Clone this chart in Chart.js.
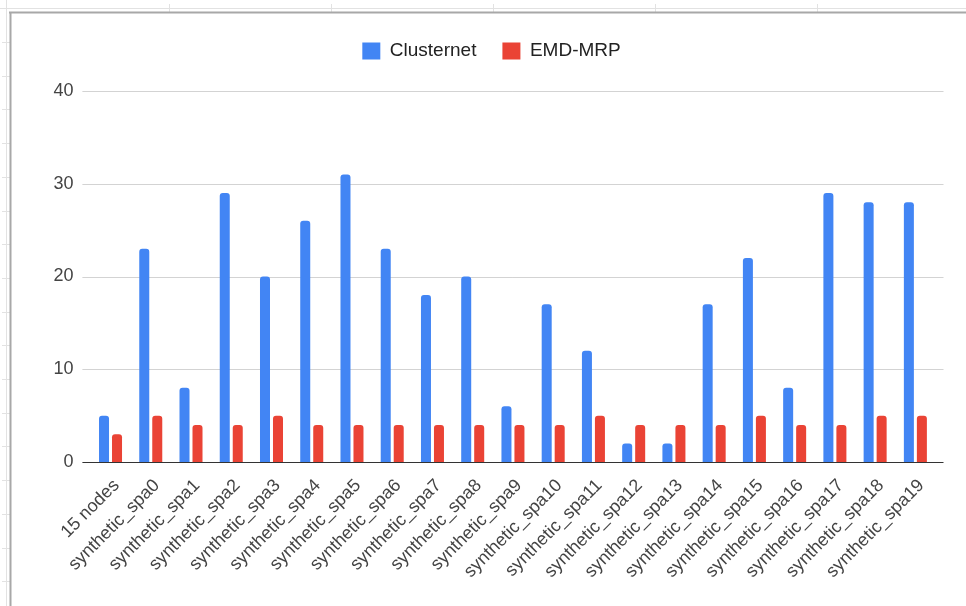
<!DOCTYPE html>
<html>
<head>
<meta charset="utf-8">
<script src="https://cdn.jsdelivr.net/npm/chart.js@4/dist/chart.umd.min.js"></script>
<style>
  html, body { margin: 0; padding: 0; background: #fff; }
  #wrap { position: absolute; left: 0; top: 0; width: 966px; height: 606px; }
</style>
</head>
<body>
<div id="wrap"><canvas id="c" width="966" height="606"></canvas></div>
<script>
const categories = ["15 nodes", "synthetic_spa0", "synthetic_spa1", "synthetic_spa2", "synthetic_spa3",
  "synthetic_spa4", "synthetic_spa5", "synthetic_spa6", "synthetic_spa7", "synthetic_spa8",
  "synthetic_spa9", "synthetic_spa10", "synthetic_spa11", "synthetic_spa12", "synthetic_spa13",
  "synthetic_spa14", "synthetic_spa15", "synthetic_spa16", "synthetic_spa17", "synthetic_spa18",
  "synthetic_spa19"];
const clusternet = [5, 23, 8, 29, 20, 26, 31, 23, 18, 20, 6, 17, 12, 2, 2, 17, 22, 8, 29, 28, 28];
const emdMrp = [3, 5, 4, 4, 5, 4, 4, 4, 4, 4, 4, 4, 5, 4, 4, 4, 5, 4, 4, 5, 5];
const seriesNames = ["Clusternet", "EMD-MRP"];
const yTicks = [0, 10, 20, 30, 40];

const FONT = "'Liberation Sans', Arial, sans-serif";

// spreadsheet backdrop behind the chart
const sheetBackdrop = {
  id: 'sheetBackdrop',
  beforeDraw(chart) {
    const ctx = chart.ctx;
    const W = chart.width, H = chart.height;
    ctx.save();
    ctx.fillStyle = '#ffffff';
    ctx.fillRect(0, 0, W, H);
    ctx.strokeStyle = '#e2e2e2';
    ctx.lineWidth = 1;
    ctx.beginPath();
    ctx.moveTo(0, 8.5); ctx.lineTo(W, 8.5);
    ctx.moveTo(6.5, 0); ctx.lineTo(6.5, H);
    for (let x = 169; x < W; x += 162) { ctx.moveTo(x + 0.5, 4); ctx.lineTo(x + 0.5, 12); }
    for (let y = 42; y < H; y += 33.7) { ctx.moveTo(2, Math.round(y) + 0.5); ctx.lineTo(10, Math.round(y) + 0.5); }
    ctx.stroke();
    ctx.strokeStyle = '#a8a8a8';
    ctx.lineWidth = 2;
    ctx.beginPath();
    ctx.moveTo(9, 12.5); ctx.lineTo(W, 12.5);
    ctx.moveTo(10.5, 12); ctx.lineTo(10.5, H);
    ctx.stroke();
    ctx.restore();
  }
};

// extra space between legend and plot, as in the reference
const legendGap = {
  id: 'legendGap',
  afterInit(chart) {
    const lg = chart.legend;
    if (!lg || lg.__patched) return;
    const fit = lg.fit.bind(lg);
    lg.fit = function () { fit(); this.height += 20.5; };
    lg.__patched = true;
  }
};

// horizontal gridlines extended slightly beyond the category band (Google-style)
const extendedGrid = {
  id: 'extendedGrid',
  beforeDatasetsDraw(chart) {
    const y = chart.scales.y, a = chart.chartArea, ctx = chart.ctx;
    ctx.save();
    ctx.strokeStyle = '#d3d3d3';
    ctx.lineWidth = 1;
    y.ticks.forEach(t => {
      if (t.value === 0) return;
      const py = Math.round(y.getPixelForValue(t.value)) + 0.5;
      ctx.beginPath(); ctx.moveTo(a.left - 8, py); ctx.lineTo(a.right + 8, py); ctx.stroke();
    });
    ctx.restore();
  },
  afterDatasetsDraw(chart) {
    const y = chart.scales.y, a = chart.chartArea, ctx = chart.ctx;
    const py = Math.round(y.getPixelForValue(0)) + 0.5;
    ctx.save();
    ctx.strokeStyle = '#333333';
    ctx.lineWidth = 1;
    ctx.beginPath(); ctx.moveTo(a.left - 8, py); ctx.lineTo(a.right + 8, py); ctx.stroke();
    ctx.restore();
  }
};

new Chart(document.getElementById('c'), {
  type: 'bar',
  data: {
    labels: categories,
    datasets: [
      { label: seriesNames[0], data: clusternet, backgroundColor: '#4285F4', borderWidth: 0, borderRadius: 3,
        categoryPercentage: 0.646, barPercentage: 0.77 },
      { label: seriesNames[1], data: emdMrp, backgroundColor: '#EA4335', borderWidth: 0, borderRadius: 3,
        categoryPercentage: 0.646, barPercentage: 0.77 }
    ]
  },
  options: {
    responsive: false,
    animation: false,
    devicePixelRatio: 1,
    layout: { padding: { left: 47.5, right: 30.5, top: 15.5, bottom: 0 } },
    plugins: {
      legend: {
        position: 'top',
        align: 'center',
        labels: {
          boxWidth: 18, boxHeight: 17, padding: 26,
          color: '#222', font: { family: FONT, size: 19 }
        }
      },
      tooltip: { enabled: false }
    },
    scales: {
      x: {
        grid: { display: false, drawTicks: false },
        border: { display: false },
        ticks: {
          autoSkip: false, minRotation: 45, maxRotation: 45, padding: 13, labelOffset: 6,
          color: '#444', font: { family: FONT, size: 18 }
        },
        afterFit(s) { s.height = 144; }
      },
      y: {
        min: 0, max: 40,
        grid: { display: false, drawTicks: false },
        border: { display: false },
        ticks: {
          stepSize: 10, padding: 17,
          color: '#444', font: { family: FONT, size: 18 },
          callback: (v) => yTicks.includes(v) ? String(v) : ''
        },
        afterFit(s) { s.width = 42.9; }
      }
    }
  },
  plugins: [sheetBackdrop, legendGap, extendedGrid]
});
</script>
</body>
</html>
